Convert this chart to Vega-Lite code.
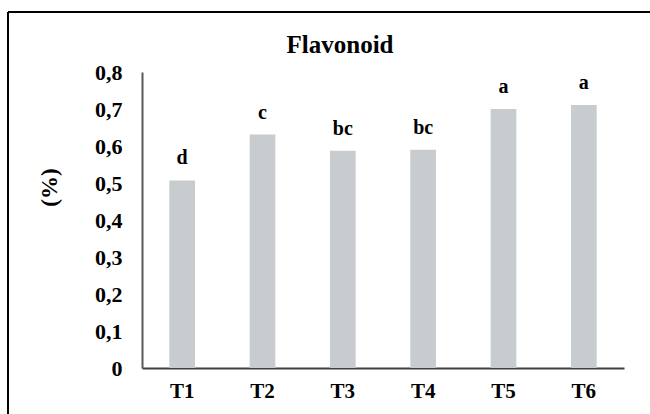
{
  "$schema": "https://vega.github.io/schema/vega-lite/v6.json",
  "autosize": "none",
  "width": 642,
  "height": 402,
  "padding": {"left": 8, "top": 12, "right": 0, "bottom": 0},
  "background": "white",
  "config": {
    "view": {"stroke": "black", "strokeWidth": 2, "strokeDash": [642, 1044, 402, 0]},
    "font": "Liberation Serif"
  },
  "title": {
    "text": "Flavonoid",
    "font": "Liberation Serif",
    "fontSize": 25,
    "fontWeight": "bold",
    "color": "black",
    "anchor": "middle",
    "frame": "group",
    "baseline": "alphabetic",
    "offset": -40,
    "dx": 11,
    "dy": 26
  },
  "data": {
    "values": [
      {"t": "T1", "v": 0.507, "g": "d"},
      {"t": "T2", "v": 0.631, "g": "c"},
      {"t": "T3", "v": 0.587, "g": "bc"},
      {"t": "T4", "v": 0.59, "g": "bc"},
      {"t": "T5", "v": 0.7, "g": "a"},
      {"t": "T6", "v": 0.711, "g": "a"}
    ]
  },
  "encoding": {
    "x": {
      "field": "t",
      "type": "nominal",
      "sort": null,
      "scale": {"range": [134, 616], "paddingInner": 0.68, "paddingOuter": 0.34},
      "axis": {
        "title": null,
        "orient": "bottom",
        "offset": -46,
        "labelAngle": 0,
        "ticks": false,
        "labelPadding": 12,
        "labelFont": "Liberation Serif",
        "labelFontSize": 21,
        "labelFontWeight": "bold",
        "labelColor": "black",
        "domainColor": "#404040",
        "domainWidth": 2
      }
    },
    "y": {
      "field": "v",
      "type": "quantitative",
      "scale": {"domain": [0, 0.8], "range": [356, 60], "nice": false},
      "axis": {
        "title": "(%)",
        "orient": "left",
        "offset": -134,
        "values": [0, 0.1, 0.2, 0.3, 0.4, 0.5, 0.6, 0.7, 0.8],
        "labelExpr": "datum.value == 0 ? '0' : replace(format(datum.value, '.1f'), '.', ',')",
        "grid": false,
        "ticks": false,
        "labelPadding": 20,
        "labelFont": "Liberation Serif",
        "labelFontSize": 22,
        "labelFontWeight": "bold",
        "labelColor": "black",
        "domainColor": "#595959",
        "domainWidth": 2,
        "titleFont": "Liberation Serif",
        "titleFontSize": 23,
        "titleFontWeight": "bold",
        "titleColor": "black",
        "titleAngle": -90,
        "titleAlign": "center",
        "titleBaseline": "middle",
        "titleX": -93,
        "titleY": 175
      }
    }
  },
  "layer": [
    {"mark": {"type": "bar", "color": "#c9cccf"}},
    {
      "mark": {
        "type": "text",
        "baseline": "alphabetic",
        "dy": -16,
        "font": "Liberation Serif",
        "fontSize": 20,
        "fontWeight": "bold",
        "color": "black"
      },
      "encoding": {"text": {"field": "g"}}
    }
  ]
}
